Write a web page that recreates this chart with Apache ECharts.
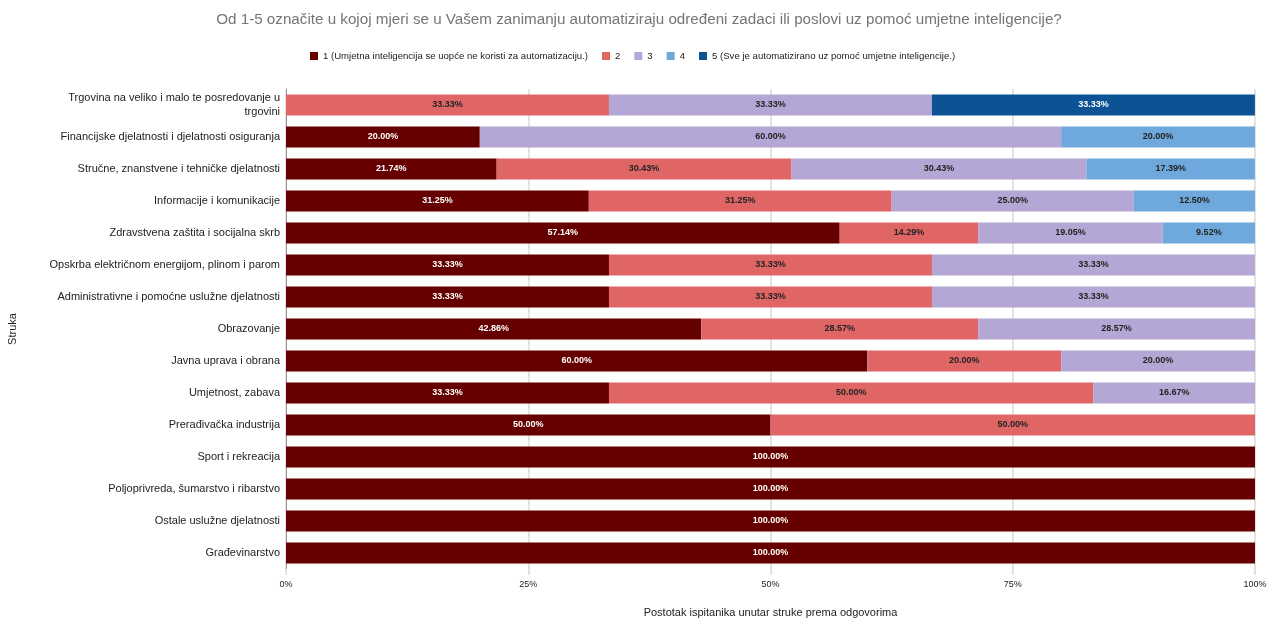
<!DOCTYPE html>
<html>
<head>
<meta charset="utf-8">
<script src="https://cdn.jsdelivr.net/npm/echarts@6/dist/echarts.min.js"></script>
<style>
  html, body { margin: 0; padding: 0; background: #fff; }
  #chart { width: 1268px; height: 619px; }
</style>
</head>
<body>
<div id="chart"></div>
<script>
var categories = [
  "Trgovina na veliko i malo te posredovanje u\ntrgovini",
  "Financijske djelatnosti i djelatnosti osiguranja",
  "Stručne, znanstvene i tehničke djelatnosti",
  "Informacije i komunikacije",
  "Zdravstvena zaštita i socijalna skrb",
  "Opskrba električnom energijom, plinom i parom",
  "Administrativne i pomoćne uslužne djelatnosti",
  "Obrazovanje",
  "Javna uprava i obrana",
  "Umjetnost, zabava",
  "Prerađivačka industrija",
  "Sport i rekreacija",
  "Poljoprivreda, šumarstvo i ribarstvo",
  "Ostale uslužne djelatnosti",
  "Građevinarstvo"
];
var seriesNames = [
  "1 (Umjetna inteligencija se uopće ne koristi za automatizaciju.)",
  "2",
  "3",
  "4",
  "5 (Sve je automatizirano uz pomoć umjetne inteligencije.)"
];
var level1 = [0, 20, 21.74, 31.25, 57.14, 33.33, 33.33, 42.86, 60, 33.33, 50, 100, 100, 100, 100];
var level2 = [33.33, 0, 30.43, 31.25, 14.29, 33.33, 33.33, 28.57, 20, 50, 50, 0, 0, 0, 0];
var level3 = [33.33, 60, 30.43, 25, 19.05, 33.33, 33.33, 28.57, 20, 16.67, 0, 0, 0, 0, 0];
var level4 = [0, 20, 17.39, 12.5, 9.52, 0, 0, 0, 0, 0, 0, 0, 0, 0, 0];
var level5 = [33.33, 0, 0, 0, 0, 0, 0, 0, 0, 0, 0, 0, 0, 0, 0];
var xTicks = [0, 25, 50, 75, 100];

var colors = ["#660000", "#e06666", "#b4a7d6", "#6fa8dc", "#0b5394"];
var labelColors = ["#ffffff", "#222222", "#222222", "#222222", "#ffffff"];
var levels = [level1, level2, level3, level4, level5];

var series = levels.map(function (vals, i) {
  return {
    name: seriesNames[i],
    type: "bar",
    stack: "total",
    barWidth: "66%",
    data: vals.map(function (v) { return v > 0 ? v : null; }),
    itemStyle: { color: colors[i] },
    label: {
      show: true,
      position: "inside",
      color: labelColors[i],
      fontSize: 9,
      fontWeight: "bold",
      fontFamily: "Liberation Sans",
      formatter: function (p) { return p.value.toFixed(2) + "%"; }
    }
  };
});

var option = {
  animation: false,
  backgroundColor: "#ffffff",
  textStyle: { fontFamily: "Liberation Sans" },
  title: {
    text: "Od 1-5 označite u kojoj mjeri se u Vašem zanimanju automatiziraju određeni zadaci ili poslovi uz pomoć umjetne inteligencije?",
    left: 634,
    textAlign: "center",
    top: 7,
    textStyle: { color: "#757575", fontSize: 15.2, fontWeight: "normal", fontFamily: "Liberation Sans" }
  },
  legend: {
    top: 46,
    left: 305,
    itemWidth: 8,
    itemHeight: 8,
    itemGap: 14,
    icon: "rect",
    textStyle: { fontSize: 9.6, color: "#222" },
    data: seriesNames
  },
  grid: { left: 286, right: 13, top: 89, bottom: 50, outerBoundsMode: "none" },
  xAxis: {
    type: "value",
    min: 0,
    max: 100,
    interval: 25,
    name: "Postotak ispitanika unutar struke prema odgovorima",
    nameLocation: "middle",
    nameGap: 38,
    nameTextStyle: { fontSize: 11, color: "#222" },
    axisLabel: {
      fontSize: 9,
      color: "#222",
      margin: 11,
      formatter: function (v) { return xTicks.indexOf(v) >= 0 ? v + "%" : ""; }
    },
    axisLine: { show: false },
    axisTick: { show: true, length: 6, lineStyle: { color: "#e3e3e3", width: 2 } },
    splitLine: { show: true, lineStyle: { color: "#e3e3e3", width: 2 } }
  },
  yAxis: {
    type: "category",
    inverse: true,
    data: categories,
    name: "Struka",
    nameLocation: "middle",
    nameRotate: 90,
    nameGap: 268,
    nameTextStyle: { fontSize: 11, color: "#222" },
    axisLabel: { fontSize: 11, color: "#222", margin: 6, align: "right", lineHeight: 14 },
    axisTick: { show: false },
    axisLine: { show: true, lineStyle: { color: "#999", width: 1 } }
  },
  series: series
};

var chart = echarts.init(document.getElementById("chart"));
chart.setOption(option);
</script>
</body>
</html>
